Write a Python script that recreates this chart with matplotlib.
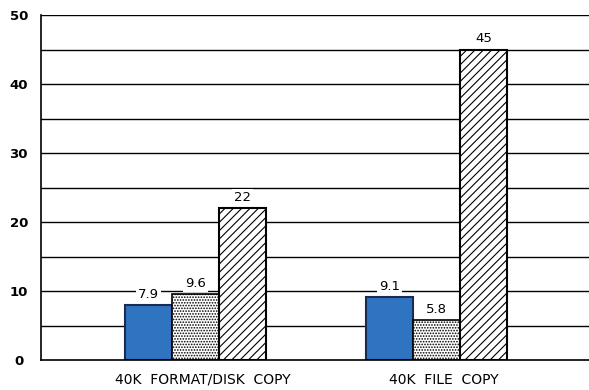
import matplotlib
matplotlib.use("Agg")
import matplotlib.pyplot as plt
import numpy as np

categories = ['40K  FORMAT/DISK  COPY', '40K  FILE  COPY']
series_a = [7.9, 9.1]    # solid blue
series_b = [9.6, 5.8]    # dotted
series_c = [22, 45]      # hatched
labels_a = ['7.9', '9.1']
labels_b = ['9.6', '5.8']
labels_c = ['22', '45']
yticks = [0, 10, 20, 30, 40, 50]

plt.rcParams['hatch.linewidth'] = 0.8
fig = plt.figure(figsize=(5.89, 3.90), dpi=100)
ax = fig.add_axes([0.0696, 0.0769, 0.9304, 0.8846])

x = np.arange(len(categories))
w = 0.195

# grid lines every 5
for g in np.arange(5, 51, 5):
    ax.axhline(g, color='black', lw=1.0, zorder=1)

ax.bar(x - w, series_a, w, color='#2f74c0', edgecolor='#1a2a50', lw=1.5, zorder=2)
ax.bar(x, series_b, w, color='white', edgecolor='black', hatch='......', lw=1.2, zorder=2)
ax.bar(x + w, series_c, w, color='white', edgecolor='black', hatch='////', lw=1.5, zorder=2)

def put(xs, vals, texts):
    for xi, v, t in zip(xs, vals, texts):
        ax.text(xi, v + 0.6, t, ha='center', va='bottom', fontsize=9.5,
                bbox=dict(facecolor='white', edgecolor='none', pad=1.5), zorder=3)

put(x - w, series_a, labels_a)
put(x, series_b, labels_b)
put(x + w, series_c, labels_c)

ax.set_ylim(0, 50)
ax.set_xlim(-0.641, 1.633)
ax.set_yticks(yticks)
ax.set_yticklabels([str(t) for t in yticks], fontsize=9.5, fontweight='bold', ha='center')
ax.tick_params(axis='y', length=0, pad=16)
ax.tick_params(axis='x', length=0, pad=9)
ax.set_xticks(x + 0.03)
ax.set_xticklabels(categories, fontsize=10)
for s in ['top', 'right']:
    ax.spines[s].set_visible(False)
ax.spines['left'].set_linewidth(1.2)
ax.spines['bottom'].set_linewidth(1.2)

fig.savefig('out.png', dpi=100)
